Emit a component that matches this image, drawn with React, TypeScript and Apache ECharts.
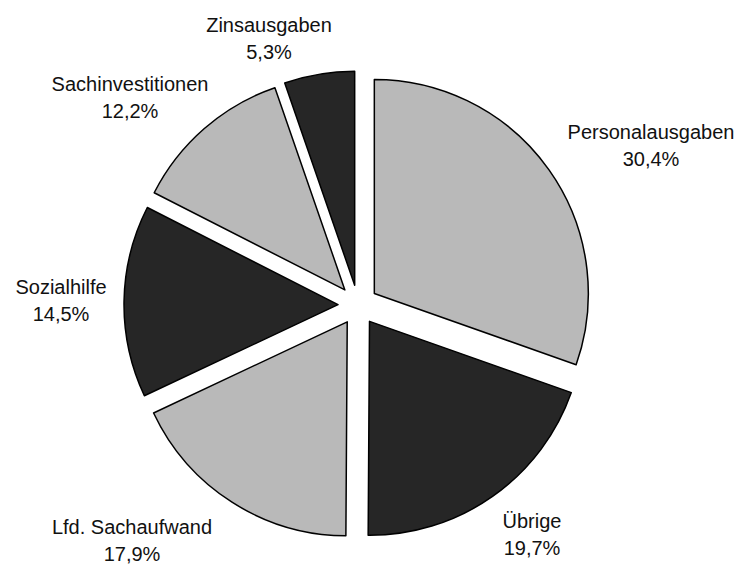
import React, { useEffect, useRef } from "react";
import * as echarts from "echarts";

const categories = [
  "Personalausgaben",
  "Übrige",
  "Lfd. Sachaufwand",
  "Sozialhilfe",
  "Sachinvestitionen",
  "Zinsausgaben",
];
const shares = [30.4, 19.7, 17.9, 14.5, 12.2, 5.3];
const sliceTones = ["light", "dark", "light", "dark", "light", "dark"];

const toneColor: Record<string, string> = { light: "#b9b9b9", dark: "#262626" };
// label block centres (px)
const labelSpots = [
  [651, 145],
  [532, 534],
  [132, 540],
  [61, 300],
  [130, 97],
  [269, 38],
];

const fmt = (v: number) => `${v.toFixed(1).replace(".", ",")}%`;

export default function App() {
  const ref = useRef<HTMLDivElement>(null);
  useEffect(() => {
    document.body.style.margin = "0";
    const chart = echarts.init(ref.current!, null, { renderer: "svg" });
    chart.setOption({
      animation: false,
      backgroundColor: "#ffffff",
      graphic: categories.map((c, i) => ({
        type: "text",
        x: labelSpots[i][0],
        y: labelSpots[i][1],
        z: 100,
        zlevel: 1,
        silent: true,
        style: {
          text: `${c}\n${fmt(shares[i])}`,
          fill: "#111",
          font: '20px "Liberation Sans", Arial, sans-serif',
          lineHeight: 27,
          align: "center",
          verticalAlign: "middle",
        },
      })),
      series: [
        {
          type: "pie",
          center: [358, 305],
          radius: [0, 214],
          startAngle: 90,
          clockwise: true,
          selectedMode: "multiple",
          selectedOffset: 20,
          silent: true,
          emphasis: { disabled: true },
          itemStyle: { borderColor: "#000", borderWidth: 1.5 },
          label: { show: false },
          labelLine: { show: false },
          data: categories.map((c, i) => ({
            name: c,
            value: shares[i],
            selected: true,
            itemStyle: { color: toneColor[sliceTones[i]] },
            select: { itemStyle: { color: toneColor[sliceTones[i]], borderColor: "#000", borderWidth: 1.5 } },
          })),
        },
      ],
    });
    return () => chart.dispose();
  }, []);
  return <div ref={ref} style={{ width: 750, height: 564 }} />;
}
